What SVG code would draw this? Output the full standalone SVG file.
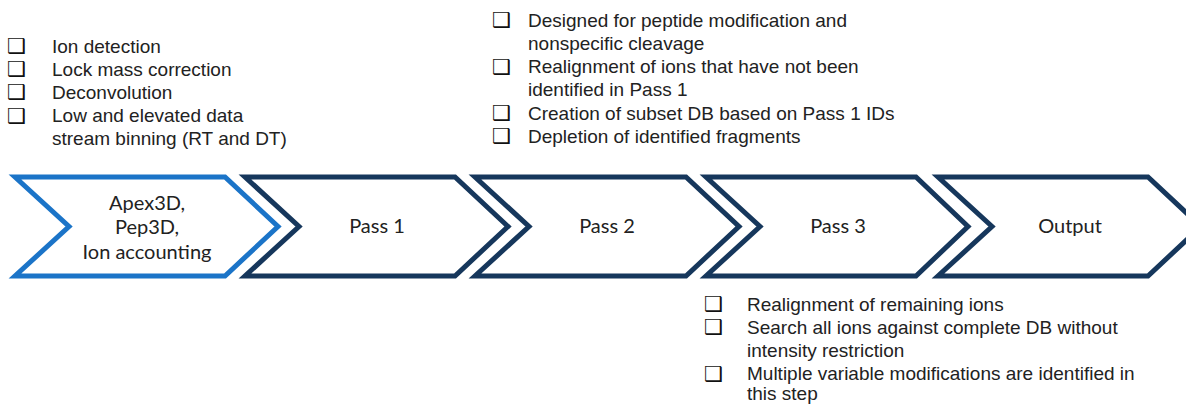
<svg xmlns="http://www.w3.org/2000/svg" width="1186" height="405" viewBox="0 0 1186 405">
<style>
.chev{fill:#fff;stroke:#16375c;stroke-width:5;stroke-linejoin:miter}
.chev1{fill:#fff;stroke:#1b74c8;stroke-width:5;stroke-linejoin:miter}
.lbl{font-family:Lato,"Open Sans","Liberation Sans",sans-serif;font-size:20px;fill:#222;text-anchor:middle}
.bt{font-family:"Liberation Sans",Arial,sans-serif;font-size:19px;fill:#222}
.bx{font-family:"DejaVu Sans",sans-serif;font-size:21px;font-weight:bold;fill:#111}
</style>
<rect width="1186" height="405" fill="#fff"/>
<g id="connectors"></g>
<g id="node-apex">
<polygon class="chev1" points="15,177 225,177 278,226.5 225,276 15,276 69,226.5"/>
<text class="lbl" x="147" y="209.5">Apex3D,</text>
<text class="lbl" x="147" y="234">Pep3D,</text>
<text class="lbl" x="147" y="258.5">Ion accounting</text>
</g>
<g id="node-pass1">
<polygon class="chev" points="245,177 455,177 508,226.5 455,276 245,276 299,226.5"/>
<text class="lbl" x="377" y="233">Pass 1</text>
</g>
<g id="node-pass2">
<polygon class="chev" points="475,177 686,177 739,226.5 686,276 475,276 529,226.5"/>
<text class="lbl" x="607" y="233">Pass 2</text>
</g>
<g id="node-pass3">
<polygon class="chev" points="706,177 916,177 968,226.5 916,276 706,276 760,226.5"/>
<text class="lbl" x="838" y="233">Pass 3</text>
</g>
<g id="node-output">
<polygon class="chev" points="938,177 1148,177 1201,226.5 1148,276 938,276 992,226.5"/>
<text class="lbl" x="1070" y="233">Output</text>
</g>
<g id="notes-apex">
<text class="bx" x="7" y="53">❑</text>
<text class="bx" x="7" y="76.2">❑</text>
<text class="bx" x="7" y="99.4">❑</text>
<text class="bx" x="7" y="122.6">❑</text>
<text class="bt" x="52" y="52.5">Ion detection</text>
<text class="bt" x="52" y="75.7">Lock mass correction</text>
<text class="bt" x="52" y="98.9">Deconvolution</text>
<text class="bt" x="52" y="122.1">Low and elevated data</text>
<text class="bt" x="52" y="145.3">stream binning (RT and DT)</text>
</g>
<g id="notes-pass2">
<text class="bx" x="492" y="27.2">❑</text>
<text class="bx" x="492" y="73.6">❑</text>
<text class="bx" x="492" y="120">❑</text>
<text class="bx" x="492" y="143.2">❑</text>
<text class="bt" x="528" y="26.7">Designed for peptide modification and</text>
<text class="bt" x="528" y="49.9">nonspecific cleavage</text>
<text class="bt" x="528" y="73.1">Realignment of ions that have not been</text>
<text class="bt" x="528" y="96.3">identified in Pass 1</text>
<text class="bt" x="528" y="119.5">Creation of subset DB based on Pass 1 IDs</text>
<text class="bt" x="528" y="142.7">Depletion of identified fragments</text>
</g>
<g id="notes-pass3">
<text class="bx" x="704" y="311">❑</text>
<text class="bx" x="704" y="334.2">❑</text>
<text class="bx" x="704" y="380.6">❑</text>
<text class="bt" x="747" y="310.5">Realignment of remaining ions</text>
<text class="bt" x="747" y="333.7">Search all ions against complete DB without</text>
<text class="bt" x="747" y="356.9">intensity restriction</text>
<text class="bt" x="747" y="379.6">Multiple variable modifications are identified in</text>
<text class="bt" x="747" y="400">this step</text>
</g>
</svg>
